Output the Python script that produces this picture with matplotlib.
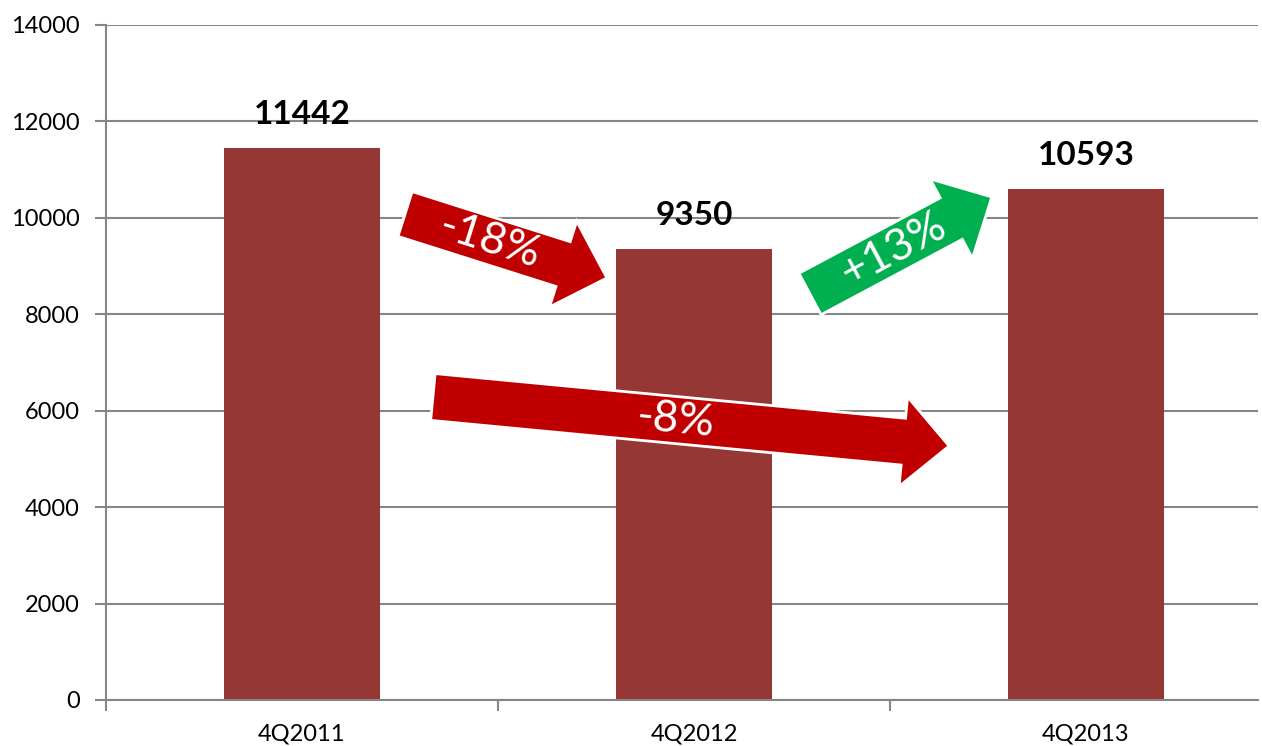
import numpy as np
import matplotlib
matplotlib.use("Agg")
import matplotlib.pyplot as plt
from matplotlib.patches import Polygon

plt.rcParams['font.family'] = ['Lato', 'DejaVu Sans']

# Data
quarters = ['4Q2011', '4Q2012', '4Q2013']
values = [11442, 9350, 10593]
y_ticks = [0, 2000, 4000, 6000, 8000, 10000, 12000, 14000]

# change arrows: (tail x, tail y), (tip x, tip y) in data units, label, colour
arrow_labels = ['-18%', '+13%', '-8%']
arrow_tails = [(0.263, 10080), (1.296, 8421), (0.334, 6285)]
arrow_tips = [(0.778, 8753), (1.760, 10433), (1.651, 5268)]
arrow_colors = ['#C00000', '#00B050', '#C00000']
label_frac = [0.42, 0.46, 0.47]

W, H = 1262, 746
fig = plt.figure(figsize=(W / 100, H / 100), dpi=100)
ax = fig.add_axes([106 / W, 46 / H, (1258 - 106) / W, (700 - 25) / H])

x = np.arange(len(quarters))
ax.bar(x, values, width=0.4, color='#953735', zorder=2)

for xi, v in zip(x, values):
    ax.annotate(str(v), (xi, v), xytext=(0, 24), textcoords='offset points',
                ha='center', va='center', fontsize=24, fontweight='bold')

ax.set_yticks(y_ticks)
ax.set_yticklabels([str(t) for t in y_ticks], fontsize=17)
ax.yaxis.grid(True, color='#868686', linewidth=1.5)
ax.set_axisbelow(True)
ax.tick_params(axis='y', direction='out', length=8, width=1.5,
               color='#868686', pad=11)

ax.set_xticks(x)
ax.set_xticklabels(quarters, fontsize=17)
ax.set_xticks([-0.5, 0.5, 1.5, 2.5], minor=True)
ax.tick_params(axis='x', which='major', length=0, pad=17)
ax.tick_params(axis='x', which='minor', direction='out', length=8,
               width=1.5, color='#868686')

# limits last: set_xticks widens the view
ax.set_xlim(-0.5, 2.439)
ax.set_ylim(0, 14000)

for side in ['top', 'right']:
    ax.spines[side].set_visible(False)
for side in ['left', 'bottom']:
    ax.spines[side].set_color('#868686')
    ax.spines[side].set_linewidth(1.5)


def draw_arrow(tail, tip, color, label, frac):
    tr = ax.transData
    p0 = tr.transform(tail)
    p1 = tr.transform(tip)
    d = p1 - p0
    u = d / np.hypot(*d)
    n = np.array([-u[1], u[0]])
    sw, hw, hl = 23.5, 45, 46
    b = p1 - u * hl
    pts = [p0 + n * sw, b + n * sw, b + n * hw, p1,
           b - n * hw, b - n * sw, p0 - n * sw]
    pts = tr.inverted().transform(np.array(pts))
    ax.add_patch(Polygon(pts, closed=True, facecolor=color,
                         edgecolor='white', linewidth=2, zorder=5,
                         clip_on=False))
    angle = np.degrees(np.arctan2(d[1], d[0]))
    c = tr.inverted().transform(p0 + d * frac)
    ax.text(c[0], c[1], label, color='white', fontsize=32,
            rotation=angle, rotation_mode='anchor',
            ha='center', va='center', zorder=6)


for tail, tip, col, lab, fr in zip(arrow_tails, arrow_tips, arrow_colors,
                                   arrow_labels, label_frac):
    draw_arrow(tail, tip, col, lab, fr)

fig.savefig('out.png', dpi=100)
